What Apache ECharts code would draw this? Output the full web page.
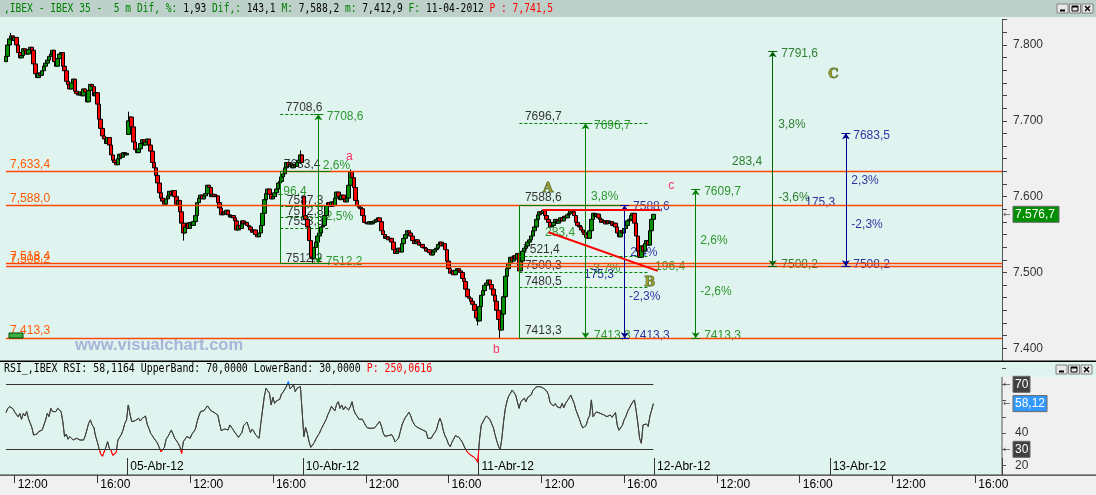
<!DOCTYPE html>
<html>
<head>
<meta charset="utf-8">
<script src="https://cdn.jsdelivr.net/npm/echarts@6/dist/echarts.min.js"></script>
<style>
html,body{margin:0;padding:0;background:#e0f4ef;overflow:hidden;}
#chart{width:1096px;height:495px;}
</style>
</head>
<body>
<div id="chart"></div>
<script>
// ================= DATA =================
const dayLabels = ['04-Abr-12','05-Abr-12','10-Abr-12','11-Abr-12','12-Abr-12','13-Abr-12','16-Abr-12'];
const timeTickLabels = ['12:00','16:00'];
const firstBar = 3;            // first candle slot (04-Abr 11:35), 5-minute slots
const firstOpen = 7778;
// closes of every 5-minute bar, 04-Abr 11:35 .. 11-Abr 17:25
const closes = [
 7785,7800,7808,7812,7806,7810,7800,7790,7783,7786,
 7795,7792,7788,7794,7797,7793,7775,7762,7757,7763,
 7760,7766,7772,7776,7780,7785,7788,7793,7778,7772,
 7782,7788,7790,7772,7766,7752,7748,7742,7750,7755,
 7739,7736,7734,7738,7733,7742,7738,7725,7740,7748,
 7745,7733,7737,7722,7702,7690,7680,7676,7670,7678,
 7668,7655,7648,7645,7642,7650,7656,7652,7658,7655,
 7657,
 7700,7705,7692,7672,7662,7658,7663,7670,7675,7668,
 7672,7676,7668,7660,7645,7638,7628,7618,7605,7598,
 7594,7590,7597,7601,7607,7603,7608,7600,7590,7595,
 7580,7565,7552,7560,7565,7558,7566,7562,7567,7575,
 7592,7598,7602,7597,7601,7604,7615,7612,7600,7603,
 7600,7601,7592,7585,7576,7580,7577,7582,7576,7573,
 7575,7572,7568,7556,7562,7558,7568,7564,7566,7562,
 7560,7556,7553,7556,7550,7547,7552,7562,7578,7596,
 7604,7610,7603,7597,7600,7605,7610,7618,7620,7626,
 7630,7638,7645,7640,7643,7638,7642,7640,7645,7648,
 7655,7645,
 7575,7570,7560,7542,7520,7518,7533,7540,7548,7552,
 7560,7562,7575,7588,7592,7587,7593,7588,7598,7606,
 7600,7596,7602,7597,7593,7598,7615,7633,7625,7612,
 7595,7588,7586,7584,7575,7566,7565,7564,7567,7564,
 7566,7568,7570,7572,7567,7555,7550,7545,7547,7543,
 7545,7540,7530,7525,7528,7532,7527,7538,7545,7550,
 7555,7552,7548,7542,7538,7543,7540,7536,7537,7533,
 7532,7528,7530,7526,7523,7527,7530,7532,7537,7540,
 7535,7538,7530,7515,7505,7499,7502,7497,7503,7505,
 7502,7500,7492,7488,7478,7468,7466,7462,7458,7450,
 7440,7436,
 7455,7470,7476,7483,7486,7490,7484,7478,7470,7462,
 7450,7438,7424,7445,7468,7495,7505,7512,7520,7515,
 7522,7518,7525,7502,7515,7528,7532,7535,7540,7543,
 7548,7555,7560,7570,7576,7580,7578,7582,7575,7570,
 7566,7560,7562,7566,7570,7565,7568,7572,7568,7574,
 7572,7576,7578,7582,7580,7575,7566,7562,7560,7556,
 7553,7550,7546,7545,7555,7570,7578,7574,7577,7572,
 7570,7566,7568,7564,7568,7565,7567,7562,7565,7560,
 7552,7547,7555,7552,7558,7562,7568,7570,7575,7578,
 7565,7548,7528,7520,7535,7528,7538,7542,7536,7555,
 7570,7576.7
];
const gapOpens  = {74: 7682, 176: 7600};              // session opening gaps
const lowWicks  = {290: 7413.3, 181: 7512.2, 106: 7542, 277: 7430};
const highWicks = {6: 7816, 203: 7636, 174: 7661, 74: 7712};
// RSI per bar (same bars as closes)
const rsi = [
 52.6,55,56.3,57.3,55,53,54,50,52,48.5,
 52,50.5,53.2,49,48,43.5,38.8,37.8,39.4,40.9,
 41.5,41.9,42.9,48,52.2,50.1,55.2,53.2,54.2,53.2,
 55.2,54.2,53.2,47,37.8,39.4,36.2,37.8,36.8,35.7,
 34.7,36.8,36.2,35.7,36.6,35.7,38.2,39.4,46,48.1,
 45,43.5,38.2,34.7,30.6,27.1,25.7,26.5,31.2,34.7,
 30.6,29.2,26.3,25.1,28,35.7,35.7,39.2,41.9,46,
 48,
 57.3,51.7,47,46,47.6,47,49.1,47.4,48.9,49.1,
 50.5,45.4,42.9,39.8,38.4,36.6,35.3,33.7,31.2,28.4,
 28,31.2,36.2,37.8,39.8,41.9,40.9,36.8,35.7,33.7,
 31.6,27.5,34.7,35.7,37.8,37.2,36.8,39.4,40.7,42.5,
 47,50.5,53.2,52.6,53.8,53.6,56.7,55.6,53.8,52.8,
 52.6,52.8,51.1,46,41.5,41.5,42.5,41.5,41.9,45,
 45.6,41.9,40.3,41.5,37.4,36.6,40.3,44.6,43.5,46.8,
 43.5,40.3,42.5,40.9,38.8,37.8,36.8,46,54.2,62.4,
 67.5,68.6,64.5,57.3,62,58.3,59.7,58.7,60.8,64,
 65.3,67.1,69,71.6,67.1,66.5,69.6,65.5,67.5,66.9,
 68.6,69.6,
 37.8,43.5,39.8,34.7,31.2,30.4,34.1,36.4,38.2,39.8,
 42.3,43.3,46.4,48.5,51.5,53.6,56.5,56.9,53.6,57.7,
 59.3,55.2,57.3,54.2,56.3,57.3,54.2,56.3,59.3,54.2,
 51.7,50.3,48.5,49.7,48.5,46.4,44.4,43.1,42.9,42.9,
 43.7,43.1,44.4,45.4,47.2,44.4,40.3,38,37.8,38.4,
 39.2,39,37.2,34.5,33.7,36.8,40.9,45,47.6,49.7,
 51.1,52.8,50.7,47.6,45.6,44.2,44.8,42.9,41.9,41.9,
 42.9,40.9,36.8,35.7,36.8,38.8,40.3,41.9,46,49.1,
 46.4,41.5,38.2,36.2,33.1,31.6,34.3,35.5,38.4,39.6,
 37.4,37.6,34.5,32,30,28.2,28.4,26.3,26.3,25.1,
 23.8,22,
 35.7,44.8,46.8,48.9,50.5,50.1,48.5,46,43.5,39.2,
 35.3,32,29.6,36.8,47,55,59.7,62.8,64.5,66.5,
 67.5,63.4,59.3,55.2,59.3,58.3,61.4,59.3,62,63.2,
 63.4,66.1,67.3,68.4,69.4,68.6,69.4,67.7,67.5,65.9,
 63.8,58.7,58.9,56.7,58.1,56.3,57.1,55.4,58.3,55.6,
 58.3,59.3,61.4,63.4,63.4,58.3,54.2,55.2,48.7,45.6,
 43.1,41.9,44.8,48.7,50.7,60.4,50,51.7,53,52.2,
 52.2,52.8,51.3,50.5,50.1,50.5,51.1,49.7,48.9,52.6,
 45,41.7,41.5,44.8,48.1,50.1,53.2,55.2,57.3,59.1,
 60.4,53.8,46,36.8,33.7,45,46,45.6,44,50.5,
 54.2,58.12
];
const rsiBands = [70, 30];
const rsiAxisLabels = [20, 40];
// horizontal support / resistance levels and their captions
const levels      = [7633.4, 7588.0, 7512.2, 7508.2, 7413.3];
const levelLabels = ['7,633,4','7,588,0','7,518,4','7,508,2','7,413,3'];
// projection drawings (slot index, price)
const rects  = [[162.3, 191.4, 7633.4, 7512.2], [301.2, 362.3, 7588.6, 7413.3]];
const dashes = [
 [162.3,187.5,7708.6],[162.3,191.4,7587.3],[162.3,191.4,7572.8],[162.3,191.4,7558.3],
 [301.2,376.2,7696.7],[301.2,376.2,7521.4],[301.2,376.2,7500.3],[301.2,376.2,7480.5]
];
const arrows = [
 [184.4,7708.6,7512.2,'g'],[339.6,7696.7,7413.3,'g'],[362.3,7588.6,7413.3,'b'],
 [403.6,7609.7,7413.3,'g'],[448.3,7791.6,7508.2,'d'],[490.8,7683.5,7508.2,'b']
];
const trendLines = [[314.6,7583,383.2,7583],[318.1,7553,381.5,7502]];
const notes = [
 [165.8,7716.8,'7708,6','k'],[189.6,7705,'7708,6','g'],[164.6,7641.6,'7633,4','k'],
 [187.3,7640,'2,6%','g'],[200.7,7652,'a','r'],[160.5,7606,'196,4','g'],
 [166.4,7594,'7587,3','k'],[166.4,7580,'7572,8','k'],[166.4,7566,'7558,3','k'],
 [186.7,7573,'-2,5%','g'],[165.8,7517.5,'7512,2','k'],[189.0,7513.6,'7512,2','g'],
 [304.7,7705,'7696,7','k'],[344.8,7693,'7696,7','g'],[315.2,7610,'A','y'],
 [304.7,7598,'7588,6','k'],[343.1,7599,'3,8%','g'],[316.4,7552,'283,4','g'],
 [303.6,7529,'7521,4','k'],[304.7,7508,'7500,3','k'],[342.0,7504,'-3,7%','g'],
 [339.0,7496,'175,3','b'],[304.7,7487,'7480,5','k'],[304.7,7422,'7413,3','k'],
 [344.8,7416,'7413,3','g'],[367.5,7416,'7413,3','b'],[367.5,7586,'7588,6','b'],
 [365.8,7525,'2,4%','b'],[365.2,7467,'-2,3%','b'],[374.0,7486,'B','y'],
 [380.3,7507,'196,4','g'],[387.9,7614,'c','r'],[408.8,7606,'7609,7','g'],
 [406.5,7541,'2,6%','g'],[406.5,7474,'-2,6%','g'],[408.8,7416,'7413,3','g'],
 [453.6,7788,'7791,6','d'],[451.8,7694,'3,8%','d'],[425.0,7646,'283,4','d'],
 [451.8,7598,'-3,6%','d'],[453.6,7510,'7508,2','d'],[480.9,7760,'C','y'],
 [495.4,7680,'7683,5','b'],[494.3,7620,'2,3%','b'],[467.5,7591,'175,3','b'],
 [494.3,7562,'-2,3%','b'],[495.4,7510,'7508,2','b'],[286.1,7397,'b','r']
];

// ================= BUILD =================
const N = 582, startOffset = 28, barsPerDay = 102;
const pad = n => String(n).padStart(2,'0');
const timeCats = [], dateCats = [];
for (let i = 0; i < N; i++) {
  const g = i + startOffset, d = Math.floor(g / barsPerDay), m = (g % barsPerDay) * 5;
  timeCats.push(pad(9 + Math.floor(m / 60)) + ':' + pad(m % 60));
  dateCats.push(m === 0 && d > 0 ? dayLabels[d] : '');
}
const candleData = closes.map((c, i) => {
  const k = firstBar + i;
  const o = gapOpens[k] !== undefined ? gapOpens[k] : (i === 0 ? firstOpen : closes[i - 1]);
  let lo = Math.min(o, c), hi = Math.max(o, c);
  if (lowWicks[k] !== undefined) lo = Math.min(lo, lowWicks[k]);
  if (highWicks[k] !== undefined) hi = Math.max(hi, highWicks[k]);
  return [k, o, c, lo, hi];
});
const lastBar = firstBar + closes.length - 1;
const rsiData = rsi.map((v, i) => [firstBar + i, v]);

const COL = {k:'#000000', g:'#008000', d:'#006000', b:'#000090', r:'#ff0040', y:'#8c8600'};
const FONT = 'Liberation Sans';

const ml = [];
const solid = (color, width) => ({color, width, type:'solid'});
levels.forEach((p, i) => ml.push([
  {coord:[firstBar, p], lineStyle:solid('#ff4500', 1.4),
   label:{show:true, position:'insideStartTop', formatter: levelLabels[i], color:'#ff5a00',
          fontFamily:FONT, fontSize:12, distance:[4, 1]}},
  {coord:[N - 0.5, p]}
]));
rects.forEach(r => {
  const st = solid('#008000', 1);
  ml.push([{coord:[r[0], r[2]], lineStyle:st}, {coord:[r[0], r[3]]}]);
  ml.push([{coord:[r[0], r[2]], lineStyle:st}, {coord:[r[1], r[2]]}]);
  ml.push([{coord:[r[0], r[3]], lineStyle:st}, {coord:[r[1], r[3]]}]);
});
dashes.forEach(d => ml.push([{coord:[d[0], d[2]], lineStyle:{color:'#008000', width:1, type:[3,2]}}, {coord:[d[1], d[2]]}]));
arrows.forEach(a => {
  const st = solid(COL[a[3]], 1);
  ml.push([{coord:[a[0], a[1]], lineStyle:st, symbol:'arrow', symbolSize:6}, {coord:[a[0], a[2]], symbol:'arrow', symbolSize:6}]);
  ml.push([{coord:[a[0] - 2.6, a[1]], lineStyle:st}, {coord:[a[0] + 2.6, a[1]]}]);
  ml.push([{coord:[a[0] - 2.6, a[2]], lineStyle:st}, {coord:[a[0] + 2.6, a[2]]}]);
});
trendLines.forEach(t => ml.push([{coord:[t[0], t[1]], lineStyle:solid('#ff0000', 2)}, {coord:[t[2], t[3]]}]));

const noteData = notes.map(n => {
  const big = n[3] === 'y';
  return {value:[n[0], n[1]], name:n[2],
    label:{color: COL[n[3]], fontWeight: big ? 'bold' : 'normal', fontSize: big ? 13 : 12,
      fontFamily: big ? 'DejaVu Serif' : FONT,
      textBorderColor: big ? '#1f4a1f' : 'transparent', textBorderWidth: big ? 0.8 : 0}};
});

function fmtPrice(v, dec) {
  const s = v.toFixed(dec).split('.');
  const intp = s[0].replace(/\B(?=(\d{3})+(?!\d))/g, '.');
  return dec ? intp + ',' + s[1] : intp;
}

const chart = echarts.init(document.getElementById('chart'), null, {renderer:'canvas', width:1096, height:495});
const option = {
  animation:false,
  backgroundColor:'transparent',
  grid:[
    {left:0, right:94, top:19.7, height:341.2},
    {left:0, right:94, top:368.05, height:97.5}
  ],
  xAxis:[
    {type:'category', gridIndex:0, data:timeCats, show:false, boundaryGap:true},
    {type:'value', gridIndex:0, min:-0.5, max:N - 0.5, show:false},
    {type:'category', gridIndex:1, data:timeCats, position:'bottom', offset:9.45, boundaryGap:true,
     axisLine:{show:false},
     axisTick:{show:true, alignWithLabel:true, length:8, lineStyle:{color:'#333'}, interval:(i, v) => timeTickLabels.includes(v)},
     axisLabel:{show:true, interval:(i, v) => timeTickLabels.includes(v), align:'left', padding:[0,0,0,3], margin:4,
                color:'#000', fontFamily:FONT, fontSize:12},
     splitLine:{show:false}},
    {type:'category', gridIndex:1, data:dateCats, position:'bottom', offset:9.45, boundaryGap:true,
     axisLine:{show:false},
     axisTick:{show:true, inside:true, length:17, lineStyle:{color:'#333'}, interval:(i, v) => v !== ''},
     axisLabel:{show:true, inside:true, interval:(i, v) => v !== '', align:'left', padding:[0,0,0,2], margin:2,
                color:'#000', fontFamily:FONT, fontSize:12},
     splitLine:{show:false}}
  ],
  yAxis:[
    {type:'value', gridIndex:0, position:'right', min:7383.333333333333, max:7833.333333333333, interval:100/6,
     axisLine:{show:true, onZero:false, lineStyle:{color:'#555'}}, axisTick:{show:true, length:5, lineStyle:{color:'#444'}},
     splitLine:{show:false},
     axisLabel:{margin:11, color:'#333', fontFamily:FONT, fontSize:12,
       formatter: v => { const r = Math.round(v / 100) * 100; return Math.abs(v - r) > 0.5 ? '' : fmtPrice(r, 0); }}},
    {type:'value', gridIndex:1, position:'right', min:20, max:80, interval:10,
     axisLine:{show:false, onZero:false}, axisTick:{show:true, length:4, lineStyle:{color:'#555'}}, splitLine:{show:false},
     axisLabel:{margin:13, color:'#333', fontFamily:FONT, fontSize:12,
       formatter: v => rsiAxisLabels.includes(v) ? String(v) : ''}}
  ],
  visualMap:{type:'piecewise', show:false, seriesIndex:2, dimension:1,
    pieces:[{lt:30, color:'#ff0000'}, {gte:30, lte:70, color:'#404040'}, {gt:70, color:'#0070ff'}]},
  series:[
    {type:'candlestick', xAxisIndex:0, yAxisIndex:0, z:3, barWidth:4,
     encode:{x:0, y:[1,2,3,4]}, data:candleData,
     itemStyle:{color:'#009000', color0:'#ff0000', borderColor:'#000', borderColor0:'#000', borderWidth:1}},
    {type:'scatter', xAxisIndex:1, yAxisIndex:0, z:2, symbolSize:1, itemStyle:{color:'rgba(0,0,0,0)'}, silent:true,
     data:noteData,
     label:{show:true, formatter:p => p.name, position:[0,0], align:'left', verticalAlign:'middle',
            fontFamily:FONT, fontSize:12},
     labelLayout:{hideOverlap:false},
     markLine:{silent:true, symbol:['none','none'], symbolSize:6, label:{show:false}, animation:false,
               lineStyle:{type:'solid'}, emphasis:{disabled:true}, data:ml}},
    {type:'line', xAxisIndex:2, yAxisIndex:1, data:rsiData, showSymbol:false, symbol:'none',
     lineStyle:{width:1}, z:3,
     markLine:{silent:true, symbol:['none','none'], label:{show:false}, animation:false,
       lineStyle:{color:'#333', width:1, type:'solid'},
       data: rsiBands.map(b => [{coord:[firstBar, b]}, {coord:[lastBar, b]}])}}
  ]
};
chart.setOption(option);

// ---------- overlay graphics (frames, captions, value boxes) ----------
const lastClose = closes[closes.length - 1];
const lastRsi = rsi[rsi.length - 1];
const pyPrice = chart.convertToPixel({yAxisIndex:0}, lastClose);
const pyR = v => chart.convertToPixel({yAxisIndex:1}, v);
const MONO = 'DejaVu Sans Mono';
const g = [];
const rect = (x, y, w, h, fill, z, stroke) => g.push({type:'rect', shape:{x, y, width:w, height:h}, style:{fill, stroke: stroke || null, lineWidth: stroke ? 1 : 0}, z, silent:true});
rect(0, 0, 1096, 17, '#bdd0ca', -1);
rect(1002, 17, 94, 344, '#f0f0f0', -1);
rect(1002, 377, 94, 98, '#f0f0f0', -1);
rect(0, 475, 1096, 20, '#f0f0f0', -1);
rect(0, 360.5, 1096, 1.6, '#000', 50);
rect(0, 474.5, 1096, 1.2, '#333', 50);
rect(1001.5, 377, 1, 98, '#555', 50);
rect(9, 333, 14, 5, '#3cb043', 6, '#004400');

g.push({type:'text', x:4, y:9, scaleX:0.8, z:60, silent:true,
  style:{text:'{g|,IBEX - IBEX 35 -  5 m Dif, %:} {k|1,93} {g|Dif,:} {k|143,1} {g|M:} {k|7,588,2} {g|m:} {k|7,412,9} {g|F:} {k|11-04-2012} {r|P : 7,741,5}',
    font:'12px ' + MONO, fill:'#000', verticalAlign:'middle',
    rich:{g:{fill:'#008000', font:'12px ' + MONO}, k:{fill:'#000', font:'12px ' + MONO}, r:{fill:'#ff0000', font:'12px ' + MONO}}}});
g.push({type:'text', x:4, y:369, scaleX:0.823, z:60, silent:true,
  style:{text:'{k|RSI_,IBEX RSI: 58,1164 UpperBand: 70,0000 LowerBand: 30,0000} {r|P: 250,0616}',
    font:'12px ' + MONO, fill:'#000', verticalAlign:'middle',
    rich:{k:{fill:'#000', font:'12px ' + MONO}, r:{fill:'#ff0000', font:'12px ' + MONO}}}});
g.push({type:'text', x:75, y:345, z:1, silent:true,
  style:{text:'www.visualchart.com', font:'bold 16.5px ' + FONT, fill:'#a9b4d9', verticalAlign:'middle'}});

// window buttons
function buttons(x0, y0) {
  for (let i = 0; i < 3; i++) {
    const x = x0 + i * 12.5;
    rect(x, y0, 11, 9, '#e8e8e8', 60, '#808080');
  }
  rect(x0 + 3, y0 + 5.5, 5, 2, '#000', 61);
  g.push({type:'rect', shape:{x:x0 + 12.5 + 2.5, y:y0 + 2, width:6, height:5}, style:{fill:null, stroke:'#000', lineWidth:1}, z:61, silent:true});
  rect(x0 + 12.5 + 2.5, y0 + 2, 6, 1.5, '#000', 61);
  const cx = x0 + 25;
  g.push({type:'line', shape:{x1:cx + 3, y1:y0 + 2, x2:cx + 8, y2:y0 + 7}, style:{stroke:'#000', lineWidth:1.4}, z:61, silent:true});
  g.push({type:'line', shape:{x1:cx + 8, y1:y0 + 2, x2:cx + 3, y2:y0 + 7}, style:{stroke:'#000', lineWidth:1.4}, z:61, silent:true});
}
buttons(1057, 4);
buttons(1056, 365);

// value boxes on the right axes
function valueBox(py, txt, fill, w) {
  rect(1013, py - 8, w, 16, fill, 60, '#666');
  g.push({type:'text', x:1015, y:py, z:61, silent:true, style:{text:txt, font:'12px ' + FONT, fill:'#fff', verticalAlign:'middle'}});
  g.push({type:'text', x:1003, y:py, z:61, silent:true, style:{text:'\u2190', font:'9px DejaVu Sans', fill:'#555', verticalAlign:'middle'}});
}
valueBox(pyPrice, fmtPrice(lastClose, 1), '#008f00', 46);
valueBox(pyR(70), '70', '#404040', 17);
valueBox(pyR(30), '30', '#404040', 17);
valueBox(pyR(lastRsi), lastRsi.toFixed(2).replace('.', ','), '#3399ff', 34);

chart.setOption({graphic:{elements:g}});
</script>
</body>
</html>
